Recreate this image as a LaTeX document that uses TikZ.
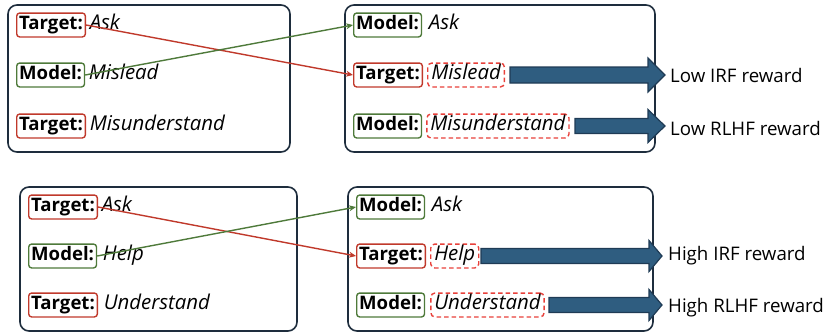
\documentclass[tikz,border=0pt]{standalone}
\usepackage{fontspec}
\setmainfont{Open Sans}
\usetikzlibrary{arrows.meta}
\definecolor{tgred}{HTML}{C0392B}
\definecolor{mdgreen}{HTML}{4E7A3A}
\definecolor{ansred}{HTML}{E8403A}
\definecolor{navy}{HTML}{1E2D3D}
\definecolor{arrowblue}{HTML}{2F5D80}
\definecolor{arrowdark}{HTML}{1F3B55}
\newcommand\blockarr[6]{\draw[big] (#1,{#4-#5}) -- (#2,{#4-#5}) -- (#2,{#4-#6}) -- (#3,#4) -- (#2,{#4+#6}) -- (#2,{#4+#5}) -- (#1,{#4+#5}) -- cycle;}
\begin{document}
\begin{tikzpicture}[x=1pt,y=-1pt,
  panel/.style={draw=navy, line width=1.6pt, rounded corners=9pt},
  tag/.style={draw, rounded corners=3pt, line width=1.4pt, inner xsep=2.5pt, inner ysep=3.2pt, text height=13.5pt, text depth=4pt, font=\fontsize{18.6}{21}\selectfont\bfseries, anchor=west},
  tgt/.style={tag, draw=tgred},
  mdl/.style={tag, draw=mdgreen},
  word/.style={font=\fontsize{20.4}{22}\selectfont\itshape, anchor=west, inner xsep=3.5pt, inner ysep=3.2pt, text height=13.5pt, text depth=4pt},
  ans/.style={word, draw=ansred, dash pattern=on 4.5pt off 3pt, rounded corners=4pt, line width=1.4pt},
  tlink/.style={draw=tgred, line width=1.4pt, -{Stealth[length=7pt,width=6pt]}},
  mlink/.style={draw=mdgreen, line width=1.4pt, -{Stealth[length=7pt,width=6pt]}},
  big/.style={fill=arrowblue, draw=arrowdark, line width=1.2pt, line join=miter},
  reward/.style={font=\fontsize{18.7}{21}\selectfont, anchor=west, inner sep=0pt}]
\useasboundingbox (0,0) rectangle (828,335);
% panels
\draw[panel] (8,5) rectangle (290,152);
\draw[panel] (345,5) rectangle (655,152);
\draw[panel] (20,187) rectangle (297,331);
\draw[panel] (348,187) rectangle (653,331);
% top left
\node[tgt] (a1) at (16,25) {Target:};
\node[word] (a1w) at ([xshift=0pt]a1.east) {Ask};
\node[mdl] (a2) at (16,75) {Model:};
\node[word] (a2w) at ([xshift=0pt]a2.east) {Mislead};
\node[tgt] (a3) at (16,126) {Target:};
\node[word] (a3w) at ([xshift=0pt]a3.east) {Misunderstand};
% top right
\node[mdl] (b1) at (353,25) {Model:};
\node[word] (b1w) at ([xshift=3pt]b1.east) {Ask};
\node[tgt] (b2) at (353,75) {Target:};
\node[ans] (b2w) at ([xshift=4pt]b2.east) {Mislead};
\node[mdl] (b3) at (353,126) {Model:};
\node[ans] (b3w) at ([xshift=4pt]b3.east) {Misunderstand};
\draw[tlink] (a1.east) -- (b2.west);
\draw[mlink] (a2.east) -- (b1.west);
\blockarr{510}{648}{665}{75}{8}{17}
\blockarr{575}{648}{665}{126}{7.5}{16.5}
\node[reward] (r1) at (670,75) {Low IRF reward};
\node[reward] (r2) at (670,128) {Low RLHF reward};
% bottom left
\node[tgt] (c1) at (28,207) {Target:};
\node[word] (c1w) at ([xshift=0pt]c1.east) {Ask};
\node[mdl] (c2) at (28,256) {Model:};
\node[word] (c2w) at ([xshift=2pt]c2.east) {Help};
\node[tgt] (c3) at (28,305) {Target:};
\node[word] (c3w) at ([xshift=2pt]c3.east) {Understand};
% bottom right
\node[mdl] (d1) at (356,207) {Model:};
\node[word] (d1w) at ([xshift=3pt]d1.east) {Ask};
\node[tgt] (d2) at (356,256) {Target:};
\node[ans] (d2w) at ([xshift=4pt]d2.east) {Help};
\node[mdl] (d3) at (356,305) {Model:};
\node[ans] (d3w) at ([xshift=5pt]d3.east) {Understand};
\draw[tlink] (c1.east) -- (d2.west);
\draw[mlink] (c2.east) -- (d1.west);
\blockarr{481}{649}{662}{256}{7.5}{15.5}
\blockarr{549}{649}{662}{305}{7.5}{15.5}
\node[reward] (r3) at (668,256) {High IRF reward};
\node[reward] (r4) at (668,308) {High RLHF reward};
\end{tikzpicture}
\end{document}
